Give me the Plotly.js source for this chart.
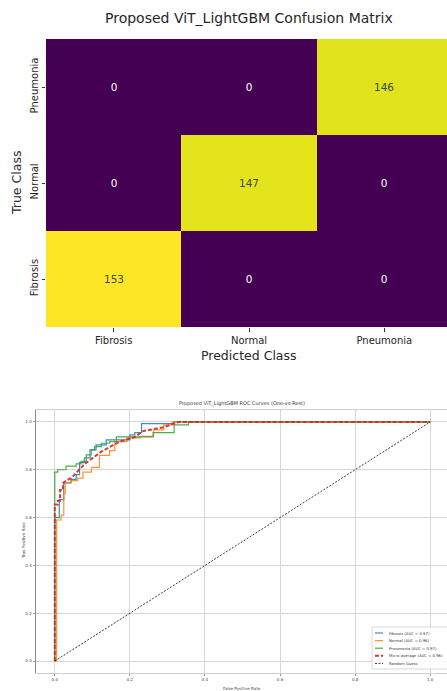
<!DOCTYPE html>
<html>
<head>
<meta charset="utf-8">
<script src="https://cdn.plot.ly/plotly-3.0.1.min.js"></script>
<style>
html,body{margin:0;padding:0;overflow:hidden;background:#fff;}
#chart{width:452px;height:691px;}
</style>
</head>
<body>
<div id="chart"></div>
<script>
// ---------- Confusion matrix data ----------
const classes = ['Fibrosis', 'Normal', 'Pneumonia'];
// rows = true class (Fibrosis, Normal, Pneumonia), cols = predicted class
const cmFibrosis = [153, 0, 0];
const cmNormal = [0, 147, 0];
const cmPneumonia = [0, 0, 146];

// ---------- ROC data ----------
const rocNames = ['Fibrosis (AUC = 0.97)', 'Normal (AUC = 0.96)', 'Pneumonia (AUC = 0.97)', 'Micro-average (AUC = 0.96)'];
const fibFpr = [0, 0, 0.012, 0.012, 0.024, 0.024, 0.043, 0.043, 0.057, 0.057, 0.066, 0.066, 0.079, 0.079, 0.094, 0.094, 0.11, 0.11, 0.137, 0.137, 0.2, 0.2, 0.213, 0.213, 0.231, 0.231, 0.317, 0.317, 1.0];
const fibTpr = [0, 0.6, 0.6, 0.675, 0.675, 0.745, 0.745, 0.76, 0.76, 0.78, 0.78, 0.83, 0.83, 0.85, 0.85, 0.883, 0.883, 0.904, 0.904, 0.925, 0.925, 0.946, 0.946, 0.955, 0.955, 0.993, 0.993, 1.0, 1.0];
const norFpr = [0, 0.005, 0.005, 0.017, 0.017, 0.024, 0.024, 0.028, 0.028, 0.043, 0.043, 0.061, 0.061, 0.075, 0.075, 0.098, 0.098, 0.119, 0.119, 0.146, 0.146, 0.16, 0.16, 0.192, 0.192, 0.227, 0.227, 0.263, 0.263, 0.29, 0.29, 0.313, 0.313, 1.0];
const norTpr = [0, 0, 0.59, 0.59, 0.61, 0.61, 0.70, 0.70, 0.745, 0.745, 0.755, 0.755, 0.765, 0.765, 0.79, 0.79, 0.81, 0.81, 0.86, 0.86, 0.88, 0.88, 0.918, 0.918, 0.933, 0.933, 0.94, 0.94, 0.967, 0.967, 0.988, 0.988, 1.0, 1.0];
const pneFpr = [0, 0, 0.008, 0.008, 0.03, 0.03, 0.057, 0.057, 0.07, 0.07, 0.084, 0.084, 0.097, 0.097, 0.106, 0.106, 0.124, 0.124, 0.146, 0.146, 0.164, 0.164, 0.262, 0.262, 0.318, 0.318, 0.356, 0.356, 1.0];
const pneTpr = [0, 0.79, 0.79, 0.80, 0.80, 0.815, 0.815, 0.825, 0.825, 0.835, 0.835, 0.862, 0.862, 0.883, 0.883, 0.897, 0.897, 0.911, 0.911, 0.918, 0.918, 0.938, 0.938, 0.955, 0.955, 0.988, 0.988, 1.0, 1.0];
const micFpr = [0, 0, 0.008, 0.008, 0.014, 0.014, 0.022, 0.022, 0.03, 0.043, 0.05, 0.066, 0.08, 0.093, 0.11, 0.124, 0.146, 0.173, 0.21, 0.236, 0.29, 0.325, 0.33, 1.0];
const micTpr = [0, 0.655, 0.655, 0.67, 0.67, 0.715, 0.715, 0.745, 0.755, 0.765, 0.775, 0.80, 0.825, 0.84, 0.86, 0.876, 0.895, 0.918, 0.935, 0.962, 0.978, 0.998, 1.0, 1.0];
const randFpr = [0, 1];
const randTpr = [0, 1];

const W = 452, H = 691;
const px = v => v / W;
const py = v => (H - v) / H;
const FONT = 'DejaVu Sans, sans-serif';

const rocSeries = [
  {x: fibFpr, y: fibTpr, name: rocNames[0], color: 'rgba(31,119,180,0.85)', width: 1.2, dash: 'solid'},
  {x: norFpr, y: norTpr, name: rocNames[1], color: 'rgba(255,127,14,0.85)', width: 1.2, dash: 'solid'},
  {x: pneFpr, y: pneTpr, name: rocNames[2], color: 'rgba(44,160,44,0.85)', width: 1.2, dash: 'solid'},
  {x: micFpr, y: micTpr, name: rocNames[3], color: 'rgba(214,39,40,0.9)', width: 2, dash: '4px,2px'},
  {x: randFpr, y: randTpr, name: 'Random Guess', color: 'rgba(0,0,0,0.85)', width: 0.9, dash: '2px,1.5px'}
];

const traces = [{
  type: 'heatmap',
  x: classes, y: classes,
  z: [cmFibrosis, cmNormal, cmPneumonia],
  colorscale: 'Viridis', zmin: 0, zmax: 153,
  showscale: false,
  texttemplate: '%{z}',
  textfont: {size: 10.5, family: FONT},
  xaxis: 'x', yaxis: 'y', hoverinfo: 'skip'
}];
rocSeries.forEach(s => traces.push({
  type: 'scatter', mode: 'lines', x: s.x, y: s.y, name: s.name,
  line: {color: s.color, width: s.width, dash: s.dash},
  xaxis: 'x2', yaxis: 'y2', showlegend: false
}));

// manual legend (compact)
const legShapes = [], legAnn = [];
const legLeft = 372, legTop = 627, legRow = 7.6;
legShapes.push({type: 'rect', xref: 'paper', yref: 'paper', x0: px(legLeft), x1: px(451), y0: py(legTop), y1: py(legTop + 42),
  line: {color: '#d0d0d0', width: 0.8}, fillcolor: 'rgba(255,255,255,0.85)', layer: 'above'});
rocSeries.forEach((s, i) => {
  const yy = legTop + 6 + i * legRow;
  legShapes.push({type: 'line', xref: 'paper', yref: 'paper', x0: px(legLeft + 3), x1: px(legLeft + 11), y0: py(yy), y1: py(yy),
    line: {color: s.color, width: s.width, dash: s.dash}, layer: 'above'});
  legAnn.push({xref: 'paper', yref: 'paper', x: px(legLeft + 15), y: py(yy), xanchor: 'left', yanchor: 'middle',
    text: s.name, showarrow: false, font: {size: 3.8, color: '#333', family: FONT}});
});

const layout = {
  width: W, height: H,
  margin: {l: 0, r: 0, t: 0, b: 0},
  paper_bgcolor: '#fff', plot_bgcolor: '#fff',
  font: {family: FONT, color: '#262626'},
  showlegend: false,
  xaxis: {domain: [px(46), px(452)], anchor: 'y', type: 'category', range: [-0.5, 2.5],
    ticks: 'outside', ticklen: 3.5, tickcolor: '#333', tickfont: {size: 10, color: '#262626'},
    showgrid: false, zeroline: false, showline: false, fixedrange: true},
  yaxis: {domain: [py(327), py(39)], anchor: 'x', type: 'category', range: [-0.5, 2.5],
    ticks: 'outside', ticklen: 3.5, tickcolor: '#333', tickangle: -90, tickfont: {size: 10, color: '#262626'},
    showgrid: false, zeroline: false, showline: false, fixedrange: true},
  xaxis2: {domain: [px(36), px(449)], anchor: 'y2', range: [-0.05, 1.05], dtick: 0.2, tick0: 0, tickformat: '.1f',
    ticks: 'outside', ticklen: 2, tickcolor: '#999', tickfont: {size: 4, color: '#444'},
    showgrid: true, gridcolor: '#d6d6d6', gridwidth: 1, zeroline: false,
    showline: true, mirror: true, linecolor: '#d0d0d0', linewidth: 1},
  yaxis2: {domain: [py(673), py(410)], anchor: 'x2', range: [-0.05, 1.05], dtick: 0.2, tick0: 0, tickformat: '.1f',
    ticks: 'outside', ticklen: 2, tickcolor: '#999', tickfont: {size: 4, color: '#444'},
    showgrid: true, gridcolor: '#d6d6d6', gridwidth: 1, zeroline: false,
    showline: true, mirror: false, linecolor: '#8a8a8a', linewidth: 1.5},
  shapes: legShapes,
  annotations: [
    {xref: 'paper', yref: 'paper', x: px(248.5), y: py(18), xanchor: 'center', yanchor: 'middle', showarrow: false,
      text: 'Proposed ViT_LightGBM Confusion Matrix', font: {size: 14, color: '#262626'}},
    {xref: 'paper', yref: 'paper', x: px(16), y: py(183), xanchor: 'center', yanchor: 'middle', showarrow: false, textangle: -90,
      text: 'True Class', font: {size: 12.5, color: '#262626'}},
    {xref: 'paper', yref: 'paper', x: px(249), y: py(355), xanchor: 'center', yanchor: 'middle', showarrow: false,
      text: 'Predicted Class', font: {size: 12.5, color: '#262626'}},
    {xref: 'paper', yref: 'paper', x: px(242), y: py(404), xanchor: 'center', yanchor: 'middle', showarrow: false,
      text: 'Proposed ViT_LightGBM ROC Curves (One-vs-Rest)', font: {size: 5, color: '#333'}},
    {xref: 'paper', yref: 'paper', x: px(242), y: py(688), xanchor: 'center', yanchor: 'middle', showarrow: false,
      text: 'False Positive Rate', font: {size: 4, color: '#444'}},
    {xref: 'paper', yref: 'paper', x: px(23), y: py(541), xanchor: 'center', yanchor: 'middle', showarrow: false, textangle: -90,
      text: 'True Positive Rate', font: {size: 4, color: '#444'}}
  ].concat(legAnn)
};

Plotly.newPlot('chart', traces, layout, {displayModeBar: false, staticPlot: true});
</script>
</body>
</html>
